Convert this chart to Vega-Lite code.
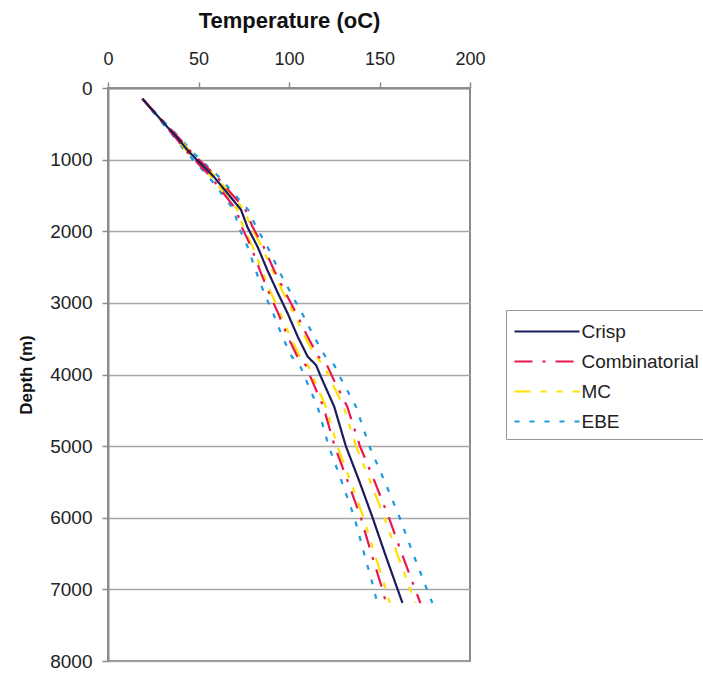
{
  "$schema": "https://vega.github.io/schema/vega-lite/v6.json",
  "autosize": {"type": "none"},
  "padding": {"left": 108, "top": 88, "right": 233, "bottom": 14},
  "width": 362,
  "height": 573,
  "config": {
    "font": "Liberation Sans",
    "view": {"stroke": "#8c8c8c", "strokeWidth": 2},
    "axis": {"labelFont": "Liberation Sans", "titleFont": "Liberation Sans", "labelColor": "#222", "titleColor": "#111", "domainColor": "#8c8c8c", "tickColor": "#8c8c8c", "gridColor": "#a6a6a6"}
  },
  "data": {"values": [
    {"s":"EBE","l":"EBE lo","d":150,"t":19},{"s":"EBE","l":"EBE lo","d":550,"t":32},{"s":"EBE","l":"EBE lo","d":700,"t":37.1},{"s":"EBE","l":"EBE lo","d":870,"t":42.2},{"s":"EBE","l":"EBE lo","d":1000,"t":47},{"s":"EBE","l":"EBE lo","d":1240,"t":55.7},{"s":"EBE","l":"EBE lo","d":1470,"t":62.6},{"s":"EBE","l":"EBE lo","d":1700,"t":69.5},{"s":"EBE","l":"EBE lo","d":1940,"t":72.2},{"s":"EBE","l":"EBE lo","d":2220,"t":77.2},{"s":"EBE","l":"EBE lo","d":2540,"t":81.5},{"s":"EBE","l":"EBE lo","d":2870,"t":86.4},{"s":"EBE","l":"EBE lo","d":3150,"t":91.3},{"s":"EBE","l":"EBE lo","d":3470,"t":96.3},{"s":"EBE","l":"EBE lo","d":3750,"t":101.5},{"s":"EBE","l":"EBE lo","d":3870,"t":106},{"s":"EBE","l":"EBE lo","d":4030,"t":108.6},{"s":"EBE","l":"EBE lo","d":4450,"t":115.8},{"s":"EBE","l":"EBE lo","d":5000,"t":121.9},{"s":"EBE","l":"EBE lo","d":5500,"t":129.2},{"s":"EBE","l":"EBE lo","d":6000,"t":136.2},{"s":"EBE","l":"EBE lo","d":6500,"t":141.5},{"s":"EBE","l":"EBE lo","d":7000,"t":147},{"s":"EBE","l":"EBE lo","d":7190,"t":148.7},
    {"s":"EBE","l":"EBE hi","d":150,"t":19},{"s":"EBE","l":"EBE hi","d":550,"t":34},{"s":"EBE","l":"EBE hi","d":700,"t":39.9},{"s":"EBE","l":"EBE hi","d":870,"t":45.8},{"s":"EBE","l":"EBE hi","d":1000,"t":51},{"s":"EBE","l":"EBE hi","d":1240,"t":61.3},{"s":"EBE","l":"EBE hi","d":1470,"t":69.4},{"s":"EBE","l":"EBE hi","d":1700,"t":77.5},{"s":"EBE","l":"EBE hi","d":1940,"t":81.8},{"s":"EBE","l":"EBE hi","d":2220,"t":88.2},{"s":"EBE","l":"EBE hi","d":2540,"t":94.2},{"s":"EBE","l":"EBE hi","d":2870,"t":101.2},{"s":"EBE","l":"EBE hi","d":3150,"t":107.3},{"s":"EBE","l":"EBE hi","d":3470,"t":113.8},{"s":"EBE","l":"EBE hi","d":3750,"t":120.1},{"s":"EBE","l":"EBE hi","d":3870,"t":125},{"s":"EBE","l":"EBE hi","d":4030,"t":128.1},{"s":"EBE","l":"EBE hi","d":4450,"t":137},{"s":"EBE","l":"EBE hi","d":5000,"t":144.4},{"s":"EBE","l":"EBE hi","d":5500,"t":153},{"s":"EBE","l":"EBE hi","d":6000,"t":161.2},{"s":"EBE","l":"EBE hi","d":6500,"t":168.5},{"s":"EBE","l":"EBE hi","d":7000,"t":176.2},{"s":"EBE","l":"EBE hi","d":7190,"t":179.2},
    {"s":"MC","l":"MC lo","d":150,"t":19},{"s":"MC","l":"MC lo","d":550,"t":32.5},{"s":"MC","l":"MC lo","d":700,"t":37.8},{"s":"MC","l":"MC lo","d":870,"t":43.1},{"s":"MC","l":"MC lo","d":1000,"t":48},{"s":"MC","l":"MC lo","d":1240,"t":57.1},{"s":"MC","l":"MC lo","d":1470,"t":64.3},{"s":"MC","l":"MC lo","d":1700,"t":71.5},{"s":"MC","l":"MC lo","d":1940,"t":74.6},{"s":"MC","l":"MC lo","d":2220,"t":80},{"s":"MC","l":"MC lo","d":2540,"t":84.8},{"s":"MC","l":"MC lo","d":2870,"t":90.2},{"s":"MC","l":"MC lo","d":3150,"t":95.3},{"s":"MC","l":"MC lo","d":3470,"t":100.6},{"s":"MC","l":"MC lo","d":3750,"t":105.9},{"s":"MC","l":"MC lo","d":3870,"t":110.5},{"s":"MC","l":"MC lo","d":4030,"t":113.1},{"s":"MC","l":"MC lo","d":4450,"t":120.4},{"s":"MC","l":"MC lo","d":5000,"t":126.7},{"s":"MC","l":"MC lo","d":5500,"t":134.1},{"s":"MC","l":"MC lo","d":6000,"t":141.2},{"s":"MC","l":"MC lo","d":6500,"t":147.3},{"s":"MC","l":"MC lo","d":7000,"t":153.5},{"s":"MC","l":"MC lo","d":7190,"t":155.7},
    {"s":"MC","l":"MC hi","d":150,"t":19},{"s":"MC","l":"MC hi","d":550,"t":33.4},{"s":"MC","l":"MC hi","d":700,"t":39.1},{"s":"MC","l":"MC hi","d":870,"t":44.8},{"s":"MC","l":"MC hi","d":1000,"t":49.9},{"s":"MC","l":"MC hi","d":1240,"t":59.7},{"s":"MC","l":"MC hi","d":1470,"t":67.5},{"s":"MC","l":"MC hi","d":1700,"t":75.2},{"s":"MC","l":"MC hi","d":1940,"t":79.1},{"s":"MC","l":"MC hi","d":2220,"t":85.1},{"s":"MC","l":"MC hi","d":2540,"t":90.7},{"s":"MC","l":"MC hi","d":2870,"t":97.1},{"s":"MC","l":"MC hi","d":3150,"t":102.7},{"s":"MC","l":"MC hi","d":3470,"t":108.7},{"s":"MC","l":"MC hi","d":3750,"t":114.5},{"s":"MC","l":"MC hi","d":3870,"t":119.3},{"s":"MC","l":"MC hi","d":4030,"t":122.1},{"s":"MC","l":"MC hi","d":4450,"t":130.2},{"s":"MC","l":"MC hi","d":5000,"t":137},{"s":"MC","l":"MC hi","d":5500,"t":145},{"s":"MC","l":"MC hi","d":6000,"t":152.7},{"s":"MC","l":"MC hi","d":6500,"t":159.7},{"s":"MC","l":"MC hi","d":7000,"t":167},{"s":"MC","l":"MC hi","d":7190,"t":169.8},
    {"s":"Combinatorial","l":"Comb lo","d":150,"t":19},{"s":"Combinatorial","l":"Comb lo","d":550,"t":32.4},{"s":"Combinatorial","l":"Comb lo","d":700,"t":37.6},{"s":"Combinatorial","l":"Comb lo","d":870,"t":42.8},{"s":"Combinatorial","l":"Comb lo","d":1000,"t":47.7},{"s":"Combinatorial","l":"Comb lo","d":1240,"t":56.7},{"s":"Combinatorial","l":"Comb lo","d":1470,"t":63.8},{"s":"Combinatorial","l":"Comb lo","d":1700,"t":70.9},{"s":"Combinatorial","l":"Comb lo","d":1940,"t":73.9},{"s":"Combinatorial","l":"Comb lo","d":2220,"t":79.1},{"s":"Combinatorial","l":"Comb lo","d":2540,"t":83.8},{"s":"Combinatorial","l":"Comb lo","d":2870,"t":89.1},{"s":"Combinatorial","l":"Comb lo","d":3150,"t":94.1},{"s":"Combinatorial","l":"Comb lo","d":3470,"t":99.3},{"s":"Combinatorial","l":"Comb lo","d":3750,"t":104.6},{"s":"Combinatorial","l":"Comb lo","d":3870,"t":109.2},{"s":"Combinatorial","l":"Comb lo","d":4030,"t":111.8},{"s":"Combinatorial","l":"Comb lo","d":4450,"t":119},{"s":"Combinatorial","l":"Comb lo","d":5000,"t":125.2},{"s":"Combinatorial","l":"Comb lo","d":5500,"t":132.6},{"s":"Combinatorial","l":"Comb lo","d":6000,"t":139.7},{"s":"Combinatorial","l":"Comb lo","d":6500,"t":145.5},{"s":"Combinatorial","l":"Comb lo","d":7000,"t":151.6},{"s":"Combinatorial","l":"Comb lo","d":7190,"t":153.6},
    {"s":"Combinatorial","l":"Comb hi","d":150,"t":19},{"s":"Combinatorial","l":"Comb hi","d":550,"t":33.6},{"s":"Combinatorial","l":"Comb hi","d":700,"t":39.3},{"s":"Combinatorial","l":"Comb hi","d":870,"t":45.1},{"s":"Combinatorial","l":"Comb hi","d":1000,"t":50.2},{"s":"Combinatorial","l":"Comb hi","d":1240,"t":60.2},{"s":"Combinatorial","l":"Comb hi","d":1470,"t":68},{"s":"Combinatorial","l":"Comb hi","d":1700,"t":75.9},{"s":"Combinatorial","l":"Comb hi","d":1940,"t":79.9},{"s":"Combinatorial","l":"Comb hi","d":2220,"t":86},{"s":"Combinatorial","l":"Comb hi","d":2540,"t":91.7},{"s":"Combinatorial","l":"Comb hi","d":2870,"t":98.3},{"s":"Combinatorial","l":"Comb hi","d":3150,"t":104.1},{"s":"Combinatorial","l":"Comb hi","d":3470,"t":110.2},{"s":"Combinatorial","l":"Comb hi","d":3750,"t":116.2},{"s":"Combinatorial","l":"Comb hi","d":3870,"t":121},{"s":"Combinatorial","l":"Comb hi","d":4030,"t":123.9},{"s":"Combinatorial","l":"Comb hi","d":4450,"t":132.2},{"s":"Combinatorial","l":"Comb hi","d":5000,"t":139.2},{"s":"Combinatorial","l":"Comb hi","d":5500,"t":147.4},{"s":"Combinatorial","l":"Comb hi","d":6000,"t":155.2},{"s":"Combinatorial","l":"Comb hi","d":6500,"t":162.3},{"s":"Combinatorial","l":"Comb hi","d":7000,"t":169.7},{"s":"Combinatorial","l":"Comb hi","d":7190,"t":172.6},
    {"s":"Crisp","l":"Crisp","d":150,"t":19},{"s":"Crisp","l":"Crisp","d":550,"t":33},{"s":"Crisp","l":"Crisp","d":700,"t":38.5},{"s":"Crisp","l":"Crisp","d":870,"t":44},{"s":"Crisp","l":"Crisp","d":1000,"t":49},{"s":"Crisp","l":"Crisp","d":1240,"t":58.5},{"s":"Crisp","l":"Crisp","d":1470,"t":66},{"s":"Crisp","l":"Crisp","d":1700,"t":73.5},{"s":"Crisp","l":"Crisp","d":1940,"t":77},{"s":"Crisp","l":"Crisp","d":2220,"t":82.7},{"s":"Crisp","l":"Crisp","d":2540,"t":88},{"s":"Crisp","l":"Crisp","d":2870,"t":94},{"s":"Crisp","l":"Crisp","d":3150,"t":99.3},{"s":"Crisp","l":"Crisp","d":3470,"t":104.8},{"s":"Crisp","l":"Crisp","d":3750,"t":110.3},{"s":"Crisp","l":"Crisp","d":3870,"t":115},{"s":"Crisp","l":"Crisp","d":4030,"t":117.6},{"s":"Crisp","l":"Crisp","d":4450,"t":125},{"s":"Crisp","l":"Crisp","d":5000,"t":131.4},{"s":"Crisp","l":"Crisp","d":5500,"t":139},{"s":"Crisp","l":"Crisp","d":6000,"t":146.2},{"s":"Crisp","l":"Crisp","d":6500,"t":153},{"s":"Crisp","l":"Crisp","d":7000,"t":160},{"s":"Crisp","l":"Crisp","d":7190,"t":162.7}
  ]},
  "mark": {"type": "line", "strokeWidth": 2.2, "clip": true},
  "encoding": {
    "x": {"field": "t", "type": "quantitative",
      "scale": {"domain": [0, 200], "nice": false},
      "axis": {"orient": "top", "title": "Temperature (oC)", "values": [0, 50, 100, 150, 200], "grid": false,
        "titleFontSize": 22, "titleFontWeight": "bold", "titlePadding": 18,
        "labelFontSize": 18, "labelPadding": 14, "tickSize": 6, "domainWidth": 2, "tickWidth": 1.5, "labelFlush": false}},
    "y": {"field": "d", "type": "quantitative",
      "scale": {"domain": [0, 8000], "reverse": true, "nice": false},
      "axis": {"title": "Depth (m)", "format": "d", "values": [0,1000,2000,3000,4000,5000,6000,7000,8000], "grid": true, "gridWidth": 1.5,
        "titleFontSize": 17, "titleFontWeight": "bold", "titlePadding": 14,
        "labelFontSize": 19, "labelPadding": 10, "tickSize": 6, "domainWidth": 2, "tickWidth": 1.5, "labelFlush": false}},
    "detail": {"field": "l"},
    "order": {"field": "d", "type": "quantitative"},
    "color": {"field": "s", "type": "nominal",
      "scale": {"domain": ["Crisp", "Combinatorial", "MC", "EBE"], "range": ["#1c1c5c", "#e8194f", "#ffe000", "#1e9be0"]},
      "legend": {"title": null, "orient": "none", "legendX": 398, "legendY": 222,
        "symbolType": "M-2.5,0H2.5", "symbolSize": 676, "symbolStrokeWidth": 2.2, "symbolOffset": 19.5,
        "labelFontSize": 19, "labelColor": "#222", "labelLimit": 400, "labelOffset": 20,
        "strokeColor": "#999", "fillColor": "white", "padding": 7, "rowPadding": 5}},
    "strokeDash": {"field": "s", "type": "nominal",
      "scale": {"domain": ["Crisp", "Combinatorial", "MC", "EBE"], "range": [[1, 0], [18, 10, 3, 10], [16, 10, 6, 10, 6, 10], [5, 10]]},
      "legend": {"title": null}}
  }
}
